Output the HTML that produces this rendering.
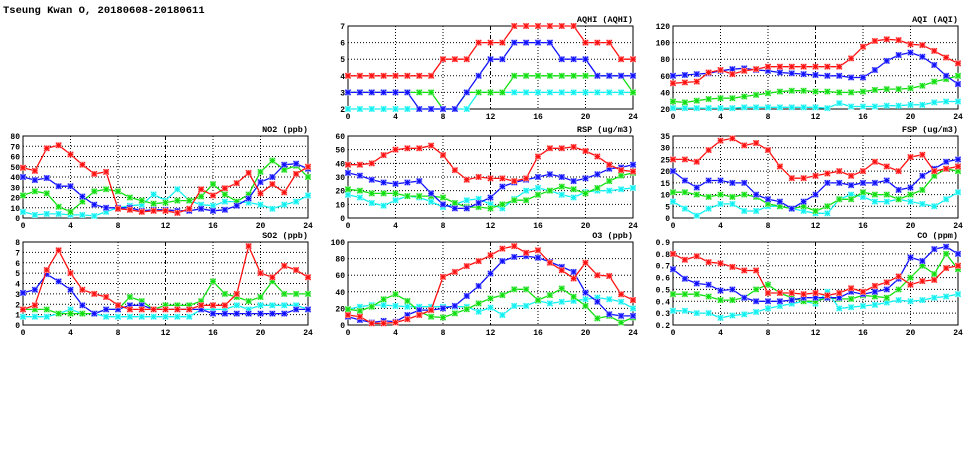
<!DOCTYPE html>
<html><head><meta charset="utf-8">
<style>
html,body{margin:0;padding:0;background:#fff;}
body{width:975px;height:447px;overflow:hidden;font-family:"Liberation Mono",monospace;}
svg text{font-family:"Liberation Mono",monospace;font-weight:bold;}
</style></head>
<body>
<svg id="chart" width="975" height="447" xmlns="http://www.w3.org/2000/svg">
<text x="3" y="13" font-size="10.5" fill="#000">Tseung Kwan O, 20180608-20180611</text>
</svg>
<script>
const hours = [0,1,2,3,4,5,6,7,8,9,10,11,12,13,14,15,16,17,18,19,20,21,22,23,24];
const xTicks = [0,4,8,12,16,20,24];

const aqhiRed   = [4,4,4,4,4,4,4,4,5,5,5,6,6,6,7,7,7,7,7,7,6,6,6,5,5];
const aqhiBlue  = [3,3,3,3,3,3,2,2,2,2,3,4,5,5,6,6,6,6,5,5,5,4,4,4,4];
const aqhiGreen = [3,3,3,3,3,3,3,3,2,2,3,3,3,3,4,4,4,4,4,4,4,4,4,4,3];
const aqhiCyan  = [2,2,2,2,2,2,2,2,2,2,2,3,3,3,3,3,3,3,3,3,3,3,3,3,3];
const aqhiTicks = [2,3,4,5,6,7];

const aqiRed   = [51,52,53,64,67,62,66,68,71,71,71,71,71,71,71,81,95,102,104,103,98,97,90,82,75];
const aqiBlue  = [60,61,62,63,66,68,69,67,66,64,63,62,61,60,60,58,58,67,78,85,88,83,73,60,50];
const aqiGreen = [29,28,30,32,33,33,35,37,39,41,42,42,41,41,40,40,41,43,44,44,45,48,53,56,60];
const aqiCyan  = [21,21,21,21,21,21,22,22,22,22,22,22,22,21,27,23,23,23,24,24,25,25,28,29,29];
const aqiTicks = [20,40,60,80,100,120];

const no2Red   = [49,46,68,71,62,52,43,45,9,8,6,7,7,5,9,28,22,29,34,44,24,33,25,43,50];
const no2Blue  = [40,37,39,31,31,21,13,10,10,10,7,8,8,7,7,9,7,8,12,19,35,40,52,53,48];
const no2Green = [22,26,24,11,6,16,26,28,26,20,17,14,15,17,17,21,33,23,16,23,45,56,47,51,40];
const no2Cyan  = [6,3,4,4,3,3,2,6,10,12,13,23,17,28,17,13,12,16,16,15,13,9,13,16,22];
const no2Ticks = [0,10,20,30,40,50,60,70,80];

const rspRed   = [39,39,40,46,50,51,51,53,46,35,28,30,29,29,27,29,45,51,51,52,49,45,39,35,34];
const rspBlue  = [33,31,28,26,25,26,27,18,10,7,7,11,15,23,26,28,30,32,30,27,29,32,36,37,39];
const rspGreen = [21,20,18,18,18,16,16,16,15,11,8,8,7,10,13,13,17,20,23,21,18,22,27,31,33];
const rspCyan  = [17,15,11,9,13,16,15,12,8,10,13,14,10,7,14,20,22,20,17,15,19,20,20,21,22];
const rspTicks = [0,10,20,30,40,50,60];

const fspRed   = [25,25,24,29,33,34,31,32,29,22,17,17,18,19,20,18,20,24,22,20,26,27,20,21,22];
const fspBlue  = [20,16,13,16,16,15,15,10,8,7,4,7,10,15,15,14,15,15,16,12,13,18,21,24,25];
const fspGreen = [11,11,10,9,10,9,10,9,6,5,4,5,3,5,8,8,11,10,10,8,10,12,18,21,20];
const fspCyan  = [7,4,1,4,6,6,3,3,5,5,4,3,2,2,8,10,9,7,7,8,7,6,5,8,11];
const fspTicks = [0,5,10,15,20,25,30,35];

const so2Red   = [1.5,1.9,5.3,7.2,5,3.4,3,2.7,1.9,1.5,1.5,1.5,1.5,1.5,1.5,1.9,1.9,1.9,3,7.6,5,4.6,5.7,5.3,4.6];
const so2Blue  = [3.1,3.4,4.9,4.2,3.4,1.9,1.1,1.5,1.5,1.9,1.9,1.5,1.5,1.5,1.5,1.5,1.1,1.1,1.1,1.1,1.1,1.1,1.1,1.5,1.5];
const so2Green = [1.5,1.5,1.5,1.1,1.1,1.1,1.1,1.5,1.5,2.7,2.3,1.5,1.9,1.9,1.9,2.3,4.2,3,2.7,2.3,2.7,4.2,3,3,3];
const so2Cyan  = [0.8,0.8,0.8,1.1,1.5,1.1,1.1,0.8,0.8,0.8,0.8,0.8,0.8,0.8,0.8,1.5,1.5,1.5,1.9,1.5,1.9,1.9,1.9,1.9,1.5];
const so2Ticks = [0,1,2,3,4,5,6,7,8];

const o3Red   = [12,10,2,2,3,7,12,18,58,64,71,77,84,92,95,87,90,75,66,56,75,60,59,37,30];
const o3Blue  = [10,6,3,5,4,12,18,18,20,23,35,47,62,77,82,83,81,76,70,64,39,28,13,11,11];
const o3Green = [19,17,22,31,37,29,16,10,9,14,19,26,32,36,43,43,30,36,44,34,23,8,11,3,9];
const o3Cyan  = [19,22,24,24,23,22,22,22,22,22,22,16,21,12,23,23,29,26,28,29,31,33,31,28,20];
const o3Ticks = [0,20,40,60,80,100];

const coRed   = [.80,.75,.78,.73,.72,.69,.66,.66,.47,.47,.47,.46,.47,.45,.47,.51,.48,.53,.56,.61,.54,.57,.58,.68,.70];
const coBlue  = [.67,.59,.55,.54,.49,.50,.43,.40,.40,.40,.41,.43,.43,.43,.43,.48,.46,.48,.50,.59,.77,.74,.84,.86,.80];
const coGreen = [.46,.46,.46,.44,.41,.41,.43,.50,.54,.47,.43,.40,.40,.43,.42,.42,.45,.44,.43,.50,.60,.70,.63,.80,.67];
const coCyan  = [.32,.32,.30,.30,.26,.28,.29,.31,.34,.36,.38,.40,.38,.48,.34,.35,.36,.37,.39,.41,.40,.41,.43,.44,.46];
const coTicks = [0.2,0.3,0.4,0.5,0.6,0.7,0.8,0.9];

const svg = document.getElementById('chart');
const NS = 'http://www.w3.org/2000/svg';
const colors = ['#ff1010','#1010ff','#10e010','#10f0f0'];
const halo = ['#ffb0b0','#b0b0ff','#b0f0b0','#b0ffff'];
const sNames = ['station-a','station-b','station-c','station-d'];

function mk(tag, attrs){ const e=document.createElementNS(NS,tag); for(const k in attrs) e.setAttribute(k,attrs[k]); return e; }

function panel(key, title, x0, x1, y0, y1, ticks, series, dec){
  const g = mk('g',{});
  
  
  svg.appendChild(g);
  const ymin = ticks[0], ymax = ticks[ticks.length-1];
  const xs = v => x0 + (v-0)/(24-0)*(x1-x0);
  const ys = v => y1 - (v-ymin)/(ymax-ymin)*(y1-y0);
  ticks.forEach((t,i)=>{
    if(i>0 && i<ticks.length-1){
      const l = mk('line',{x1:x0,x2:x1,y1:ys(t),y2:ys(t),stroke:'#000','stroke-width':1,'stroke-dasharray':'1,2'});
      
      
      g.appendChild(l);
    }
    const tx = mk('text',{x:x0-3,y:ys(t)+3,'text-anchor':'end','font-size':8,fill:'#000'});
    tx.textContent = dec ? t.toFixed(dec) : String(t);
    
    
    g.appendChild(tx);
  });
  xTicks.forEach((t,i)=>{
    if(i>0 && i<xTicks.length-1){
      const l = mk('line',{x1:xs(t),x2:xs(t),y1:y0,y2:y1,stroke:'#000','stroke-width':1,'stroke-dasharray':(t===12?'4,2,1,2':'1,2')});
      
      
      g.appendChild(l);
    }
    const tx = mk('text',{x:xs(t),y:y1+10,'text-anchor':'middle','font-size':8,fill:'#000'});
    tx.textContent = String(t);
    
    
    g.appendChild(tx);
  });
  const frame = mk('rect',{x:x0,y:y0,width:x1-x0,height:y1-y0,fill:'none',stroke:'#000','stroke-width':1});
  
  
  g.appendChild(frame);
  const tt = mk('text',{x:x1,y:y0-4,'text-anchor':'end','font-size':8.5,fill:'#000'});
  tt.textContent = title;
  
  
  g.appendChild(tt);
  [3,2,1,0].forEach(si=>{
    const vals = series[si];
    const sg = mk('g',{});
    
    
    g.appendChild(sg);
    const d = vals.map((v,i)=>(i?'L':'M')+xs(hours[i]).toFixed(1)+','+ys(v).toFixed(1)).join(' ');
    const p = mk('path',{d:d,fill:'none',stroke:colors[si],'stroke-width':1.3});
    
    
    sg.appendChild(p);
    vals.forEach((v,i)=>{
      const cx = xs(hours[i]), cy = ys(v), r = 2.6;
      const m = mk('g',{});
      
      
      m.appendChild(mk('rect',{x:cx-3,y:cy-3,width:6,height:6,fill:halo[si]}));
      m.appendChild(mk('path',{d:`M${cx-r},${cy-r}L${cx+r},${cy+r}M${cx-r},${cy+r}L${cx+r},${cy-r}M${cx},${cy-r}L${cx},${cy+r}M${cx-r},${cy}L${cx+r},${cy}`,stroke:colors[si],'stroke-width':1.1}));
      sg.appendChild(m);
    });
  });
}

panel('aqhi','AQHI (AQHI)',348,633,26,109,aqhiTicks,[aqhiRed,aqhiBlue,aqhiGreen,aqhiCyan],0);
panel('aqi','AQI (AQI)',673,958,26,109,aqiTicks,[aqiRed,aqiBlue,aqiGreen,aqiCyan],0);
panel('no2','NO2 (ppb)',23,308,136,218,no2Ticks,[no2Red,no2Blue,no2Green,no2Cyan],0);
panel('rsp','RSP (ug/m3)',348,633,136,218,rspTicks,[rspRed,rspBlue,rspGreen,rspCyan],0);
panel('fsp','FSP (ug/m3)',673,958,136,218,fspTicks,[fspRed,fspBlue,fspGreen,fspCyan],0);
panel('so2','SO2 (ppb)',23,308,242,325,so2Ticks,[so2Red,so2Blue,so2Green,so2Cyan],0);
panel('o3','O3 (ppb)',348,633,242,325,o3Ticks,[o3Red,o3Blue,o3Green,o3Cyan],0);
panel('co','CO (ppm)',673,958,242,325,coTicks,[coRed,coBlue,coGreen,coCyan],1);
</script>
</body></html>
